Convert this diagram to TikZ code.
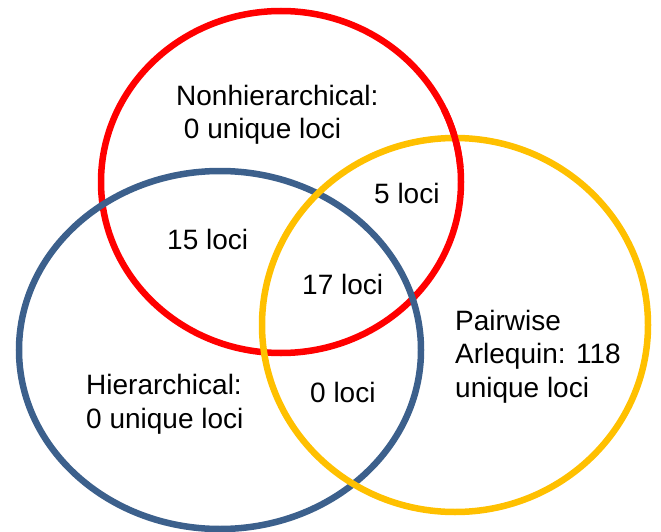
\documentclass[tikz,border=0pt]{standalone}
\usepackage{fontspec}
\setmainfont{Liberation Sans}
\usetikzlibrary{positioning}
\definecolor{venn-red}{RGB}{255, 0, 0}
\definecolor{venn-blue}{RGB}{60, 96, 140}
\definecolor{venn-yellow}{RGB}{255, 192, 0}
\tikzset{
  setline/.style={line width=6.5pt},
  vlabel/.style={anchor=base west, inner sep=0pt, align=left, font=\fontsize{28}{33.5}\selectfont}
}
\begin{document}
\begin{tikzpicture}[x=1pt, y=-1pt]
                \useasboundingbox (0, 0) rectangle (661, 532);
                \draw[setline, venn-red] (281, 182) ellipse [x radius=180, y radius=171];
                \draw[setline, venn-blue] (220, 350) ellipse [x radius=201, y radius=179];
                \draw[setline, venn-yellow] (455, 325) ellipse [x radius=193, y radius=187];
                % red passes over yellow at the upper right
                \draw[setline, venn-red] ([shift={(-25:180 and 171)}]281, 182) arc [start angle=-25, end angle=-5, x radius=180, y radius=171];
                \node[vlabel] (nonhier) at (176, 139) {Nonhierarchical:\\\ 0 unique loci};
                \node[vlabel] (redyellow) at (374, 203) {5 loci};
                \node[vlabel] (redblue) at (167, 249) {15 loci};
                \node[vlabel] (allthree) at (302, 294) {17 loci};
                \node[vlabel] (pairwise) at (455, 397) {Pairwise\\Arlequin: 118\\unique loci};
                \node[vlabel] (hier) at (86, 428) {Hierarchical:\\0 unique loci};
                \node[vlabel] (blueyellow) at (310, 402) {0 loci};
            \end{tikzpicture}
\end{document}
